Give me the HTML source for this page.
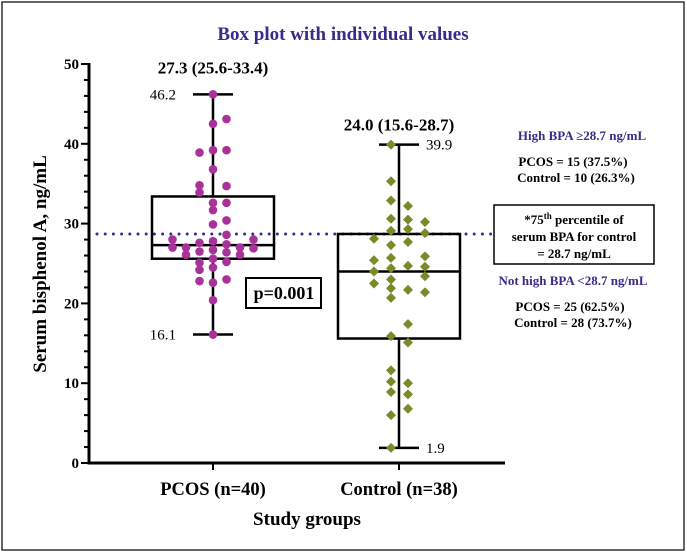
<!DOCTYPE html>
<html><head><meta charset="utf-8"><style>
body{margin:0;background:#fff}
svg{display:block;font-family:"Liberation Serif",serif}
</style></head><body>
<svg width="687" height="552" viewBox="0 0 687 552">
<rect x="2" y="2" width="682" height="548" fill="#fff" stroke="#333" stroke-width="1.5"/>
<text x="343" y="40" text-anchor="middle" font-weight="bold" font-size="19" fill="#3b2a8a">Box plot with individual values</text>
<g id="yaxis"></g>
<g id="marks"></g>
<text transform="translate(46,264) rotate(-90)" text-anchor="middle" font-weight="bold" font-size="19">Serum bisphenol A, ng/mL</text>
<text x="307" y="525" text-anchor="middle" font-weight="bold" font-size="19">Study groups</text>
<rect x="246" y="278" width="75" height="30" fill="#fff" stroke="#000" stroke-width="2"/>
<text x="284" y="299" text-anchor="middle" font-weight="bold" font-size="18">p=0.001</text>
<g font-weight="bold" font-size="13" text-anchor="middle">
<text x="582" y="140" fill="#3b2a8a">High BPA ≥28.7 ng/mL</text>
<text x="573" y="166">PCOS = 15 (37.5%)</text>
<text x="576" y="182">Control = 10 (26.3%)</text>
<rect x="494" y="205" width="160" height="59" fill="#fff" stroke="#000" stroke-width="1.5"/>
<text x="574" y="224">*75<tspan font-size="9" dy="-5">th</tspan><tspan dy="5"> percentile of</tspan></text>
<text x="574" y="241">serum BPA for control</text>
<text x="574" y="258">= 28.7 ng/mL</text>
<text x="573" y="285" fill="#3b2a8a">Not high BPA &lt;28.7 ng/mL</text>
<text x="570" y="311">PCOS = 25 (62.5%)</text>
<text x="573" y="327">Control = 28 (73.7%)</text>
</g>
</svg>
<script>
const groups=["PCOS (n=40)","Control (n=38)"];
const groupCenters=[213,399];
const medians=[27.3,24.0];
const q1s=[25.6,15.6];
const q3s=[33.4,28.7];
const mins=[16.1,1.9];
const maxs=[46.2,39.9];
const summaryLabels=["27.3 (25.6-33.4)","24.0 (15.6-28.7)"];
const cutoff=28.7;
const yTicks=[0,10,20,30,40,50];
const pcosValues=[46.2,43.1,42.5,38.9,39.2,39.2,36.8,34.8,33.9,34.7,32.6,32.6,31.7,30.4,29.9,28.0,28.6,28.0,27.0,27.0,27.6,27.8,27.4,27.0,26.9,26.1,26.5,26.7,26.4,26.1,25.1,25.6,25.2,24.2,24.5,22.8,22.6,23.0,20.4,16.1];
const pcosCols=[0,1,0,-1,0,1,0,-1,-1,1,0,1,0,1,0,-3,1,3,-3,-2,-1,0,1,2,3,-2,-1,0,1,2,-1,0,1,-1,0,-1,0,1,0,0];
const controlValues=[39.9,35.3,32.9,32.2,30.6,30.5,30.2,29.1,29.3,28.8,28.1,27.7,27.3,25.9,25.4,25.7,24.4,24.7,24.6,24.0,23.4,22.5,23.0,21.9,21.7,21.4,20.7,17.4,15.9,15.1,11.6,10.2,8.9,10.0,8.6,6.8,6.0,1.9];
const controlCols=[1,1,1,2,1,2,3,1,2,3,0,2,1,3,0,1,1,2,3,0,3,0,1,1,2,3,1,2,1,2,1,1,1,2,2,2,1,1];
const NS="http://www.w3.org/2000/svg";
const y0=463,y1=64,ymax=50;
function Y(v){return y0-(v/ymax)*(y0-y1);}
function mk(tag,attrs,parent){const e=document.createElementNS(NS,tag);for(const k in attrs)e.setAttribute(k,attrs[k]);parent.appendChild(e);return e;}
const ax=document.getElementById('yaxis'),mg=document.getElementById('marks');
let l=mk('line',{x1:89,y1:y1-1,x2:89,y2:y0+1.5,stroke:'#000','stroke-width':3},ax);


l=mk('line',{x1:88,y1:y0,x2:505,y2:y0,stroke:'#000','stroke-width':3},ax);


for(let v=0;v<=ymax;v+=2){const major=v%10===0;const t=mk('line',{x1:major?81:84,y1:Y(v),x2:89,y2:Y(v),stroke:'#000','stroke-width':2},ax);

}
yTicks.forEach(v=>{const t=mk('text',{x:79,y:Y(v)+5,'text-anchor':'end','font-size':15,'font-weight':'bold'},ax);t.textContent=v;

});
groups.forEach((g,i)=>{const c=groupCenters[i];
const t=mk('line',{x1:c,y1:y0,x2:c,y2:y0+7,stroke:'#000','stroke-width':2},ax);


const lb=mk('text',{x:c,y:y0+32,'text-anchor':'middle','font-size':18.5,'font-weight':'bold'},ax);lb.textContent=g;

});
l=mk('line',{x1:97,y1:Y(cutoff),x2:493,y2:Y(cutoff),stroke:'#3b2a8a','stroke-width':3,'stroke-dasharray':'0 8.2','stroke-linecap':'round'},mg);


const capW=[20,20];
const boxX=[152,338];
const labelGap=[21,14];
groups.forEach((g,i)=>{const c=groupCenters[i];
const gg=mk('g',{},mg);


const s={stroke:'#000','stroke-width':2.5,fill:'none'};
mk('line',Object.assign({x1:c,y1:Y(maxs[i]),x2:c,y2:Y(q3s[i])},s),gg);
mk('line',Object.assign({x1:c,y1:Y(q1s[i]),x2:c,y2:Y(mins[i])},s),gg);
mk('line',Object.assign({x1:c-capW[i],y1:Y(maxs[i]),x2:c+capW[i],y2:Y(maxs[i])},s),gg);
mk('line',Object.assign({x1:c-capW[i],y1:Y(mins[i]),x2:c+capW[i],y2:Y(mins[i])},s),gg);
mk('rect',Object.assign({x:boxX[i],y:Y(q3s[i]),width:122,height:Y(q1s[i])-Y(q3s[i])},s),gg);
mk('line',Object.assign({x1:boxX[i],y1:Y(medians[i]),x2:boxX[i]+122,y2:Y(medians[i])},s),gg);
const sl=mk('text',{x:c,y:Y(maxs[i])-labelGap[i],'text-anchor':'middle','font-size':17,'font-weight':'bold'},mg);sl.textContent=summaryLabels[i];


});
[[176,Y(maxs[0])+5,'end',maxs[0]],[176,Y(mins[0])+5,'end',mins[0]],[426,Y(maxs[1])+5,'start',maxs[1]],[426,Y(mins[1])+5,'start',mins[1]]].forEach(a=>{
const t=mk('text',{x:a[0],y:a[1],'text-anchor':a[2],'font-size':15},mg);t.textContent=a[3].toFixed(1);

});
pcosValues.forEach((v,k)=>{const c=mk('circle',{cx:groupCenters[0]+pcosCols[k]*13.5,cy:Y(v),r:4.3,fill:'#a8329a'},mg);

});
controlValues.forEach((v,k)=>{const x=groupCenters[1]-25+controlCols[k]*17,y=Y(v),r=5;
const p=mk('polygon',{points:`${x},${y-r} ${x+r},${y} ${x},${y+r} ${x-r},${y}`,fill:'#7a8a28'},mg);

});
</script>
</body></html>
